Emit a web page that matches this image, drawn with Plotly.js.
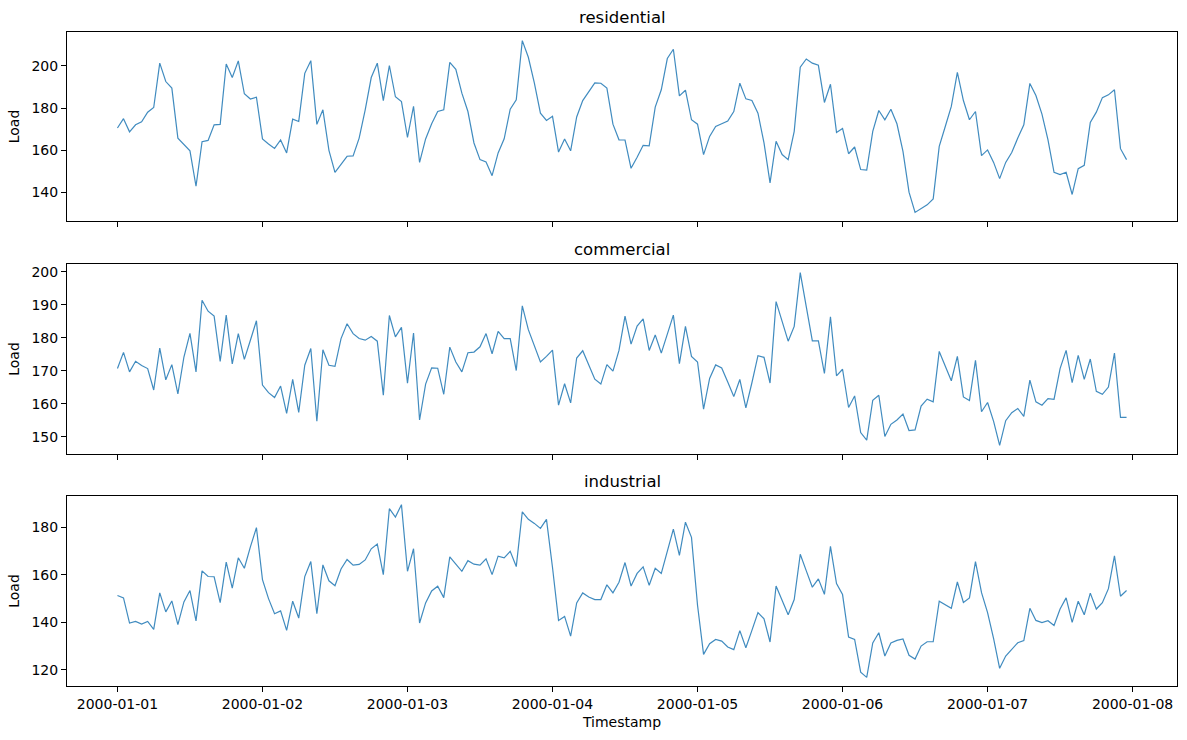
<!DOCTYPE html>
<html>
<head>
<meta charset="utf-8">
<script src="https://cdn.plot.ly/plotly-3.0.1.min.js"></script>
<style>html,body{margin:0;padding:0;background:#fff;}#chart{width:1187px;height:740px;}</style>
</head>
<body>
<div id="chart"></div>
<script>
const startTime = "2000-01-01T00:00:00";
const nHours = 168;
const dayTicks = ["2000-01-01","2000-01-02","2000-01-03","2000-01-04","2000-01-05","2000-01-06","2000-01-07","2000-01-08"];
const seriesNames = ["residential","commercial","industrial"];

const residential = [
170.6,175.0,168.8,172.1,173.5,178.1,180.3,201.3,192.6,189.5,165.8,162.7,159.8,143.0,164.1,164.7,172.1,172.3,200.9,194.5,202.4,186.8,184.3,185.2,
165.4,163.0,160.9,164.9,158.8,174.8,173.7,196.5,202.5,172.3,179.2,160.0,149.6,153.4,157.2,157.4,165.8,179.2,194.5,201.3,183.6,200.2,185.4,183.1,
166.1,180.9,154.3,165.4,172.6,178.4,179.2,201.7,198.4,187.1,178.4,163.5,155.6,154.5,148.0,158.8,165.5,179.5,183.9,212.0,204.1,191.8,177.6,174.2,
176.1,159.2,165.4,159.8,175.8,183.6,187.9,192.0,191.8,189.5,172.4,165.0,164.9,151.5,156.7,162.4,162.1,180.5,188.7,203.5,207.9,185.8,188.5,174.5,
172.4,158.0,166.6,171.3,172.6,173.9,178.4,191.8,184.4,183.6,177.6,163.5,144.6,164.3,158.0,155.6,169.0,199.4,203.3,201.3,200.3,182.7,191.3,168.5,
170.4,158.4,161.6,150.9,150.6,169.0,178.9,174.5,179.5,172.6,159.5,140.2,130.6,132.4,134.2,137.0,161.9,171.3,180.8,196.9,183.6,174.5,178.4,157.5,
160.2,154.3,146.6,154.3,159.0,165.8,172.1,191.7,186.0,177.2,165.0,149.6,148.5,149.6,139.1,151.3,152.9,173.2,178.1,185.0,186.3,188.7,160.8,155.6
];
const commercial = [
170.7,175.6,169.7,172.9,171.6,170.7,164.2,176.9,167.3,171.9,163.0,174.2,181.4,169.7,191.4,188.1,186.6,172.9,186.9,172.1,181.3,173.5,179.3,185.2,
165.7,163.4,161.9,165.4,157.1,167.4,157.4,171.7,176.8,154.7,176.4,171.7,171.4,179.8,184.3,181.3,179.8,179.3,180.4,179.0,162.6,186.8,180.3,183.2,
166.3,181.5,155.1,166.0,170.9,170.8,162.9,177.2,172.7,169.7,175.5,175.7,177.3,181.3,175.2,182.0,179.8,179.8,170.1,189.7,182.5,177.5,172.7,174.4,
176.3,159.6,166.1,160.3,173.9,176.1,171.5,167.5,166.0,171.9,169.9,176.2,186.6,178.1,183.6,185.8,176.2,180.9,175.4,181.0,186.9,172.2,183.5,174.4,
172.7,158.4,167.7,171.8,170.9,166.6,162.2,167.4,158.8,166.4,174.6,174.1,166.3,191.0,185.0,179.0,183.5,199.8,189.4,179.1,179.1,169.2,186.4,168.5,
170.5,158.9,162.4,151.3,149.0,161.1,162.6,150.1,153.8,155.1,156.9,151.9,152.1,159.3,161.4,160.6,175.9,171.7,167.0,174.4,162.1,161.0,173.2,157.6,
160.4,154.7,147.4,154.9,157.3,158.6,156.2,167.2,160.6,159.6,161.6,161.4,170.7,176.2,166.4,174.7,167.4,173.6,163.8,162.9,165.1,175.4,155.9,155.9
];
const industrial = [
151.3,150.3,139.7,140.4,139.3,140.4,137.0,152.4,144.4,149.0,139.0,148.6,153.4,140.6,161.7,159.3,159.2,148.3,165.4,154.4,167.2,162.8,171.8,179.9,
158.0,150.0,143.6,144.8,136.6,148.9,141.8,159.3,165.6,143.6,164.2,157.5,155.4,162.5,166.5,164.1,164.4,166.3,171.0,173.0,160.1,187.9,184.4,189.6,
161.5,171.0,139.7,148.2,153.2,155.2,150.4,167.6,164.5,161.5,166.0,164.5,164.1,166.8,160.1,167.9,167.2,169.9,163.5,186.6,183.4,181.7,179.6,183.4,
163.1,140.8,142.5,134.2,148.2,152.4,150.7,149.6,149.6,155.8,152.4,156.9,165.2,155.3,160.6,163.4,155.6,162.8,160.6,169.7,179.3,168.2,182.2,175.8,
147.2,126.5,131.0,132.8,132.1,129.6,128.5,136.5,129.3,136.6,144.1,141.5,131.7,155.3,149.0,143.2,149.6,168.7,161.7,154.8,158.3,151.8,172.0,156.3,
151.7,133.8,132.8,119.0,116.8,131.3,135.6,125.8,131.3,132.4,133.0,126.1,124.5,130.0,131.8,131.8,148.9,147.5,145.9,157.0,148.4,150.3,165.6,152.5,
144.1,133.1,120.6,125.8,128.4,131.4,132.3,145.9,140.8,139.9,140.7,138.7,145.6,150.3,140.0,148.9,143.2,152.3,145.6,148.3,154.2,168.0,151.0,153.4
];
const yTickStep = [20, 10, 20];

// hourly timestamps
const t0 = Date.parse(startTime + "Z");
const timestamps = [];
for (let i = 0; i < nHours; i++) {
  timestamps.push(new Date(t0 + i * 3600000).toISOString().slice(0, 19).replace("T", " "));
}
function pad(arr, frac) {
  const mn = Math.min(...arr), mx = Math.max(...arr), s = mx - mn;
  return [mn - s * frac, mx + s * frac];
}
const xr = [t0 - 0.05 * 167 * 3600000, t0 + 1.05 * 167 * 3600000].map(v => new Date(v).toISOString().slice(0, 19).replace("T", " "));

const data = [residential, commercial, industrial];
const domains = [[0.711, 1.0], [0.3547, 0.6453], [0.0, 0.2905]];
const font = {family: "DejaVu Sans, sans-serif", size: 14, color: "#000"};

const traces = data.map((vals, k) => ({
  type: "scatter", mode: "lines", x: timestamps, y: vals, name: seriesNames[k],
  xaxis: k === 0 ? "x" : "x" + (k + 1), yaxis: k === 0 ? "y" : "y" + (k + 1),
  line: {color: "rgba(31,119,180,0.85)", width: 1.2}, hoverinfo: "x+y"
}));

const layout = {
  width: 1187, height: 740, showlegend: false,
  paper_bgcolor: "#fff", plot_bgcolor: "#fff",
  margin: {l: 67, r: 10, t: 32, b: 54},
  font: font, annotations: []
};
data.forEach((vals, k) => {
  const xa = k === 0 ? "xaxis" : "xaxis" + (k + 1);
  const ya = k === 0 ? "yaxis" : "yaxis" + (k + 1);
  const yname = k === 0 ? "y" : "y" + (k + 1);
  layout[xa] = {
    type: "date", range: xr, anchor: yname, domain: [0, 1],
    tickvals: dayTicks, ticktext: dayTicks, showticklabels: k === 2,
    ticks: "outside", ticklen: 5, tickwidth: 1, tickcolor: "#000",
    showline: true, linecolor: "#000", linewidth: 1, mirror: true,
    showgrid: false, zeroline: false, tickfont: font,
    title: k === 2 ? {text: "Timestamp", font: font, standoff: 6} : {text: ""}
  };
  layout[ya] = {
    range: pad(vals, 0.05), domain: domains[k], anchor: k === 0 ? "x" : "x" + (k + 1),
    dtick: yTickStep[k], tick0: 0,
    ticks: "outside", ticklen: 5, tickwidth: 1, tickcolor: "#000",
    showline: true, linecolor: "#000", linewidth: 1, mirror: true,
    showgrid: false, zeroline: false, tickfont: font,
    title: {text: "Load", font: font, standoff: 8}
  };
  layout.annotations.push({
    text: seriesNames[k], xref: "paper", yref: "paper", x: 0.5, y: domains[k][1],
    xanchor: "center", yanchor: "bottom", yshift: 3, showarrow: false,
    font: {family: "DejaVu Sans, sans-serif", size: 16.5, color: "#000"}
  });
});

Plotly.newPlot("chart", traces, layout, {displayModeBar: false, staticPlot: true});
</script>
</body>
</html>
